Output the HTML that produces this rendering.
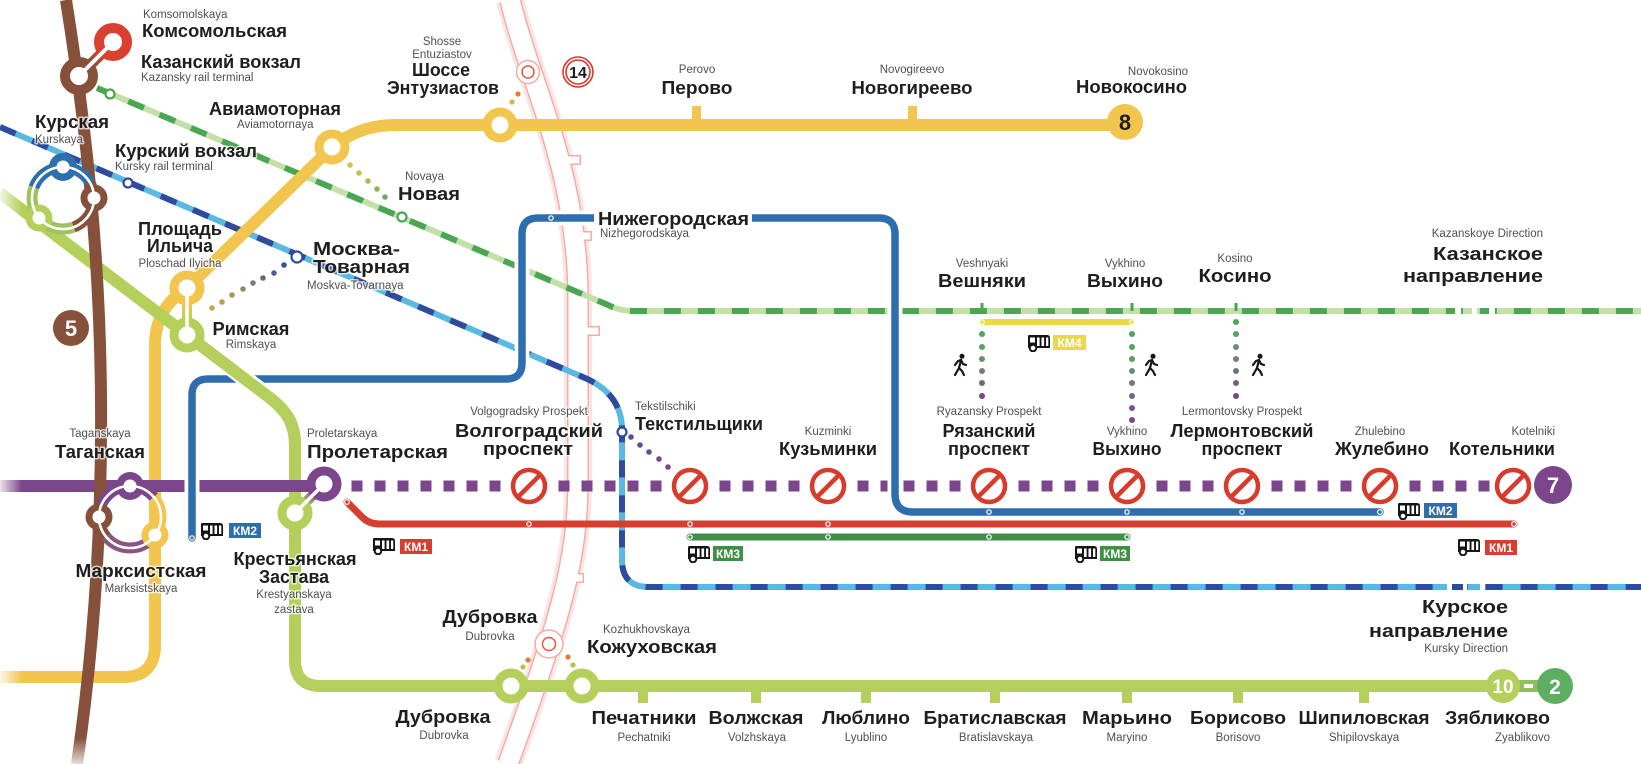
<!DOCTYPE html>
<html><head><meta charset="utf-8"><title>map</title>
<style>
html,body{margin:0;padding:0;background:#fff;width:1641px;height:764px;overflow:hidden}
svg{display:block}
.b{font-family:"Liberation Sans","DejaVu Sans",sans-serif;font-weight:700;font-size:18.5px;fill:#1e1e1e}
.s{font-family:"Liberation Sans","DejaVu Sans",sans-serif;font-size:11.5px;fill:#505050}
.t text{paint-order:stroke;stroke:#fff;stroke-opacity:.7;stroke-width:3px;stroke-linejoin:round}
.m{text-anchor:middle}.e{text-anchor:end}
.km{font-family:"Liberation Sans",sans-serif;font-weight:700;font-size:12px;fill:#fff;text-anchor:middle}
</style></head><body>
<svg width="1641" height="764" viewBox="0 0 1641 764" xmlns="http://www.w3.org/2000/svg">
<defs>
 <linearGradient id="gKR" gradientUnits="userSpaceOnUse" x1="79" y1="76" x2="113" y2="42"><stop offset="0.25" stop-color="#86503A"/><stop offset="0.75" stop-color="#D9402F"/></linearGradient>
 <linearGradient id="gYG" gradientUnits="userSpaceOnUse" x1="187" y1="288" x2="187" y2="335"><stop offset=".25" stop-color="#F2C54F"/><stop offset=".75" stop-color="#B4CF5B"/></linearGradient>
 <linearGradient id="gGP" gradientUnits="userSpaceOnUse" x1="295" y1="513" x2="324" y2="484"><stop offset=".25" stop-color="#B4CF5B"/><stop offset=".75" stop-color="#7B468B"/></linearGradient>
 <linearGradient id="fadeL" x1="0" x2="1" y1="0" y2="0"><stop offset="0" stop-color="#fff" stop-opacity=".85"/><stop offset="1" stop-color="#fff" stop-opacity="0"/></linearGradient>
 <linearGradient id="fadeB" x1="0" x2="0" y1="0" y2="1"><stop offset="0" stop-color="#fff" stop-opacity="0"/><stop offset="1" stop-color="#fff" stop-opacity=".8"/></linearGradient>
 <symbol id="bus" viewBox="0 0 24 19">
  <path d="M2,2 H20 Q23,2 23,5 V15 H1 V4 Q1,2 2,2 Z" fill="#151515"/>
  <rect x="3" y="4.5" width="5" height="5" fill="#fff"/>
  <rect x="10" y="4.5" width="2.6" height="8.5" fill="#fff"/>
  <rect x="14.5" y="4.5" width="2.6" height="8.5" fill="#fff"/>
  <rect x="19" y="4.5" width="2.3" height="8.5" fill="#fff"/>
  <circle cx="6" cy="15" r="3.3" fill="#fff" stroke="#151515" stroke-width="2"/>
 </symbol>
 <symbol id="walk" viewBox="0 0 16 24">
  <g fill="none" stroke="#151515" stroke-width="2.2" stroke-linecap="round" stroke-linejoin="round">
   <path d="M9,7 L7,15 L3,22"/><path d="M7,15 L10,18 L12,22"/><path d="M3,12 L6,8 L9,7 L11,11 L14,12"/>
  </g>
  <circle cx="10" cy="3.3" r="2.5" fill="#151515"/>
 </symbol>
 <g id="ne"><circle r="16" fill="#fff" stroke="#D83A2C" stroke-width="4.5"/><line x1="11" y1="-11" x2="-11" y2="11" stroke="#D83A2C" stroke-width="4.5"/></g>
</defs>

<!-- MCC band -->
<g fill="none">
 <path d="M510,0 C532,90 578,170 578,300 L578,480 C578,560 560,620 508,764" stroke="#FCE4E1" stroke-width="28"/>
 <path d="M510,0 C532,90 578,170 578,300 L578,480 C578,560 560,620 508,764" stroke="#F2ADA6" stroke-width="22"/>
</g>
<g fill="#F2ADA6">
 <rect x="562" y="155" width="19" height="10"/>
 <rect x="574" y="231" width="18" height="10"/>
 <rect x="578" y="326" width="22" height="10"/>
 <rect x="562" y="573" width="22" height="10"/>
</g>
<path d="M510,0 C532,90 578,170 578,300 L578,480 C578,560 560,620 508,764" stroke="#fff" stroke-width="19" fill="none"/>
<g fill="#fff">
 <rect x="560" y="156.5" width="19.5" height="7"/>
 <rect x="572" y="232.5" width="18.5" height="7"/>
 <rect x="576" y="327.5" width="22.5" height="7"/>
 <rect x="560" y="574.5" width="22.5" height="7"/>
</g>

<!-- Kazan direction -->
<g fill="none" stroke-width="6">
 <path d="M97,88 L608,305 Q620,311 633,311 L1641,311" stroke="#C2E0A8"/>
 <path d="M97,88 L608,305 Q620,311 633,311 L1641,311" stroke="#4AA651" stroke-dasharray="17 17"/>
</g>
<g fill="#fff"><rect x="1455" y="304" width="6" height="14"/><rect x="1472" y="304" width="5" height="14"/><rect x="1489" y="304" width="6" height="14"/></g>
<!-- Kursk direction -->
<g fill="none" stroke-width="6">
 <path d="M0,127 L585,378 Q622,394 622,430 L622,560 Q622,587 649,587 L1641,587" stroke="#5AB9E0"/>
 <path d="M0,127 L585,378 Q622,394 622,430 L622,560 Q622,587 649,587 L1641,587" stroke="#2F4B9D" stroke-dasharray="17 18"/>
</g>
<g fill="#fff"><rect x="1447" y="580" width="5" height="14"/><rect x="1463" y="580" width="4" height="14"/><rect x="1480" y="580" width="5" height="14"/></g>

<!-- Yellow line 8 -->
<g fill="none" stroke="#F2C54F" stroke-width="12">
 <path d="M187,288 L325,154 Q354,125 395,125 L1125,125"/>
 <path d="M187,288 C168,300 155,318 155,345 L155,645 Q155,677 123,677 L0,677"/>
</g>
<rect x="692" y="106" width="9" height="14" fill="#F2C54F"/>
<rect x="908" y="106" width="9" height="14" fill="#F2C54F"/>

<!-- Green line 10 -->
<path d="M0,193 L187,335 L270,398 C288,412 295,425 295,445 L295,660 Q295,686 321,686 L1503,686" fill="none" stroke="#B4CF5B" stroke-width="12"/>
<g fill="#B4CF5B">
 <rect x="638" y="686" width="10" height="17"/><rect x="751" y="686" width="10" height="17"/>
 <rect x="861" y="686" width="10" height="17"/><rect x="990" y="686" width="10" height="17"/>
 <rect x="1122" y="686" width="10" height="17"/><rect x="1233" y="686" width="10" height="17"/>
 <rect x="1359" y="686" width="10" height="17"/>
</g>

<!-- Purple line 7 -->
<path d="M0,486 L324,486" stroke="#7B468B" stroke-width="12"/>
<g fill="#7B468B">
 <rect x="351.5" y="480.5" width="11" height="11"/><rect x="374.5" y="480.5" width="11" height="11"/><rect x="397.5" y="480.5" width="11" height="11"/><rect x="420.5" y="480.5" width="11" height="11"/><rect x="443.5" y="480.5" width="11" height="11"/><rect x="466.5" y="480.5" width="11" height="11"/><rect x="489.5" y="480.5" width="11" height="11"/>
 <rect x="558.5" y="480.5" width="11" height="11"/><rect x="581.5" y="480.5" width="11" height="11"/><rect x="604.5" y="480.5" width="11" height="11"/><rect x="627.5" y="480.5" width="11" height="11"/><rect x="650.5" y="480.5" width="11" height="11"/>
 <rect x="719.5" y="480.5" width="11" height="11"/><rect x="742.5" y="480.5" width="11" height="11"/><rect x="765.5" y="480.5" width="11" height="11"/><rect x="788.5" y="480.5" width="11" height="11"/>
 <rect x="857.5" y="480.5" width="11" height="11"/><rect x="880.5" y="480.5" width="11" height="11"/><rect x="903.5" y="480.5" width="11" height="11"/><rect x="926.5" y="480.5" width="11" height="11"/><rect x="949.5" y="480.5" width="11" height="11"/>
 <rect x="1018.5" y="480.5" width="11" height="11"/><rect x="1041.5" y="480.5" width="11" height="11"/><rect x="1064.5" y="480.5" width="11" height="11"/><rect x="1087.5" y="480.5" width="11" height="11"/>
 <rect x="1156.5" y="480.5" width="11" height="11"/><rect x="1179.5" y="480.5" width="11" height="11"/><rect x="1202.5" y="480.5" width="11" height="11"/>
 <rect x="1271.5" y="480.5" width="11" height="11"/><rect x="1294.5" y="480.5" width="11" height="11"/><rect x="1317.5" y="480.5" width="11" height="11"/><rect x="1340.5" y="480.5" width="11" height="11"/>
 <rect x="1409.5" y="480.5" width="11" height="11"/><rect x="1432.5" y="480.5" width="11" height="11"/><rect x="1455.5" y="480.5" width="11" height="11"/><rect x="1478.5" y="480.5" width="11" height="11"/>
</g>

<!-- Brown line 5 -->
<path d="M66,0 C85,120 100,250 101,400 C102,520 95,640 77,764" fill="none" stroke="#86503A" stroke-width="12"/>

<!-- Blue KM2 line with casing -->
<path d="M192,538 L192,395 Q192,379 208,379 L506,379 Q522,379 522,363 L522,234 Q522,218 538,218 L879,218 Q895,218 895,234 L895,494 Q895,512 913,512 L1380,512" fill="none" stroke="#fff" stroke-width="15"/>
<path d="M192,538 L192,395 Q192,379 208,379 L506,379 Q522,379 522,363 L522,234 Q522,218 538,218 L879,218 Q895,218 895,234 L895,494 Q895,512 913,512 L1380,512" fill="none" stroke="#2F6EAE" stroke-width="7.5" stroke-linecap="round"/>
<!-- green segment over blue -->
<path d="M230,367 L270,398" fill="none" stroke="#fff" stroke-width="17"/>
<path d="M187,335 L270,398 C288,412 295,425 295,445" fill="none" stroke="#B4CF5B" stroke-width="12"/>

<!-- Red KM1 -->
<path d="M347,502 L362,517 Q369,524 379,524 L1514,524" fill="none" stroke="#D63E2F" stroke-width="7" stroke-linecap="round"/>
<!-- Green KM3 -->
<path d="M690,537 L1127,537" fill="none" stroke="#3F8F47" stroke-width="7" stroke-linecap="round"/>
<!-- Yellow KM4 -->
<path d="M982,322 L1132,322" fill="none" stroke="#EAD84A" stroke-width="6" stroke-linecap="round"/>

<!-- small route stops -->
<g fill="none" stroke="#fff" stroke-width="1.2">
 <circle cx="347" cy="502" r="2.4"/><circle cx="529" cy="524" r="2.2"/><circle cx="690" cy="524" r="2.2"/><circle cx="828" cy="524" r="2.2"/><circle cx="1514" cy="524" r="2.4"/>
 <circle cx="690" cy="537" r="2.2"/><circle cx="828" cy="537" r="2.2"/><circle cx="989" cy="537" r="2.2"/><circle cx="1127" cy="537" r="2.2"/>
 <circle cx="192" cy="538" r="2.2"/><circle cx="551" cy="218" r="2.2"/><circle cx="989" cy="512" r="2.2"/><circle cx="1127" cy="512" r="2.2"/><circle cx="1242" cy="512" r="2.2"/><circle cx="1380" cy="512" r="2.4"/>
 <circle cx="982" cy="322" r="2.2"/><circle cx="1132" cy="322" r="2.2"/>
</g>

<!-- Kazan ticks -->
<g fill="#4AA651"><rect x="980.5" y="303" width="3" height="8"/><rect x="1130.5" y="303" width="3" height="8"/><rect x="1234.5" y="303" width="3" height="8"/></g>

<!-- transfer dots vertical -->
<g>
 <circle cx="982" cy="334" r="3" fill="#4EA65A"/><circle cx="982" cy="347" r="3" fill="#5A9F66"/><circle cx="982" cy="359" r="3" fill="#6A9070"/><circle cx="982" cy="371" r="3" fill="#76797E"/><circle cx="982" cy="383" r="3" fill="#7C5F88"/><circle cx="982" cy="396" r="3" fill="#7B468B"/>
 <circle cx="1132" cy="334" r="3" fill="#4EA65A"/><circle cx="1132" cy="347" r="3" fill="#57A262"/><circle cx="1132" cy="359" r="3" fill="#62976A"/><circle cx="1132" cy="371" r="3" fill="#6C8A74"/><circle cx="1132" cy="383" r="3" fill="#75787E"/><circle cx="1132" cy="396" r="3" fill="#7A6486"/><circle cx="1132" cy="408" r="3" fill="#7B538A"/><circle cx="1132" cy="420" r="3" fill="#7B468B"/>
 <circle cx="1236" cy="322" r="3" fill="#4EA65A"/><circle cx="1236" cy="334" r="3" fill="#58A163"/><circle cx="1236" cy="347" r="3" fill="#64946C"/><circle cx="1236" cy="359" r="3" fill="#708478"/><circle cx="1236" cy="371" r="3" fill="#787080"/><circle cx="1236" cy="383" r="3" fill="#7B5A88"/><circle cx="1236" cy="396" r="3" fill="#7B468B"/>
</g>
<!-- Novaya dots -->
<g><circle cx="350" cy="165" r="2.8" fill="#D8C24A"/><circle cx="359" cy="173" r="2.8" fill="#C6C04E"/><circle cx="368" cy="181" r="2.8" fill="#AEBC55"/><circle cx="377" cy="189" r="2.8" fill="#8CB55A"/><circle cx="385" cy="197" r="2.8" fill="#6DAE58"/></g>
<!-- Moskva-Tovarnaya dots -->
<g><circle cx="212" cy="308" r="2.8" fill="#C9A44A"/><circle cx="222" cy="302" r="2.8" fill="#B9A050"/><circle cx="232" cy="295" r="2.8" fill="#A4975A"/><circle cx="243" cy="289" r="2.8" fill="#8C8C66"/><circle cx="253" cy="283" r="2.8" fill="#767F75"/><circle cx="263" cy="278" r="2.8" fill="#5E6D85"/><circle cx="274" cy="273" r="2.8" fill="#4A5E95"/><circle cx="284" cy="265" r="2.8" fill="#3A509E"/></g>
<!-- Tekstilshchiki dots -->
<g><circle cx="631" cy="437" r="2.8" fill="#56509C"/><circle cx="640" cy="445" r="2.8" fill="#5E4E98"/><circle cx="649" cy="452" r="2.8" fill="#664C94"/><circle cx="659" cy="459" r="2.8" fill="#714990"/><circle cx="668" cy="467" r="2.8" fill="#7B468B"/></g>
<!-- MCC transfer dots -->
<g><circle cx="518" cy="94" r="2.6" fill="#E07B39"/><circle cx="512" cy="102" r="2.6" fill="#D9B64A"/>
<circle cx="528" cy="660" r="2.6" fill="#E07B39"/><circle cx="523" cy="667" r="2.6" fill="#B9C24F"/>
<circle cx="568" cy="657" r="2.6" fill="#E07B39"/><circle cx="573" cy="665" r="2.6" fill="#B9C24F"/></g>

<!-- small railway stations -->
<g fill="#fff" stroke-width="2.2">
 <circle cx="110" cy="94" r="4.5" stroke="#4AA651"/><circle cx="402" cy="217" r="4.5" stroke="#4AA651"/>
 <circle cx="128" cy="183" r="4.5" stroke="#2F4B9D"/><circle cx="297" cy="257" r="5.5" stroke="#2F4B9D"/><circle cx="622" cy="432" r="4.5" stroke="#2F4B9D"/>
</g>
<!-- MCC stations -->
<g><circle cx="528" cy="72" r="11.5" fill="#fff" stroke="#F2ADA6" stroke-width="1.5"/><circle cx="528" cy="72" r="6" fill="none" stroke="#E4574A" stroke-width="1.5"/>
<circle cx="549" cy="644" r="14" fill="#fff" stroke="#F2ADA6" stroke-width="1.5"/><circle cx="549" cy="644" r="6.5" fill="none" stroke="#E4574A" stroke-width="1.5"/></g>
<!-- 14 badge -->
<g><circle cx="578" cy="72" r="15" fill="#fff" stroke="#D8392B" stroke-width="1.6"/><circle cx="578" cy="72" r="12" fill="none" stroke="#D8392B" stroke-width="1.6"/>
<text x="578" y="78" class="b m" style="font-size:16px">14</text></g>

<!-- Kazansky / Komsomolskaya -->
<line x1="79" y1="76" x2="113" y2="42" stroke="url(#gKR)" stroke-width="11"/>
<circle cx="79" cy="76" r="14" fill="#fff" stroke="#86503A" stroke-width="10"/>
<circle cx="113" cy="42" r="14" fill="#fff" stroke="#D9402F" stroke-width="10"/>
<line x1="79" y1="76" x2="113" y2="42" stroke="#fff" stroke-width="4"/>

<!-- Kurskaya complex -->
<g fill="none" stroke-width="11">
 <path d="M33.9,187.4 A31,31 0 0 1 89.8,182.5" stroke="#2F6EAE"/>
 <path d="M89.8,182.5 A31,31 0 0 1 73.6,227.1" stroke="#86503A"/>
 <path d="M73.6,227.1 A31,31 0 0 1 33.9,187.4" stroke="#9DC35A"/>
</g>
<circle cx="63" cy="167" r="14" fill="#2F6EAE"/><circle cx="94" cy="198" r="13.5" fill="#86503A"/><circle cx="39" cy="218" r="13.5" fill="#B4CF5B"/>
<circle cx="63" cy="198" r="31" fill="none" stroke="#fff" stroke-width="2.6"/>
<g fill="#fff"><circle cx="63" cy="167" r="6.5"/><circle cx="94" cy="198" r="6.5"/><circle cx="39" cy="218" r="6.5"/></g>

<!-- Taganskaya complex -->
<g fill="none" stroke-width="11">
 <path d="M100.9,506.4 A31,31 0 0 1 153.7,497.1" stroke="#7B468B"/>
 <path d="M153.7,497.1 A31,31 0 0 1 149.9,540.7" stroke="#F2C54F"/>
 <path d="M149.9,540.7 A31,31 0 0 1 106.3,536.9" stroke="#8A5580"/>
 <path d="M106.3,536.9 A31,31 0 0 1 100.9,506.4" stroke="#86503A"/>
</g>
<circle cx="130" cy="486" r="14" fill="#7B468B"/><circle cx="99" cy="517" r="13.5" fill="#86503A"/><circle cx="155" cy="535" r="13.5" fill="#F2C54F"/>
<circle cx="130" cy="517" r="31" fill="none" stroke="#fff" stroke-width="2.6"/>
<g fill="#fff"><circle cx="130" cy="486" r="6.5"/><circle cx="99" cy="517" r="6.5"/><circle cx="155" cy="535" r="6.5"/></g>

<!-- Ploshad Ilyicha / Rimskaya -->
<line x1="187" y1="288" x2="187" y2="335" stroke="url(#gYG)" stroke-width="10"/>
<circle cx="187" cy="288" r="13" fill="#fff" stroke="#F2C54F" stroke-width="9"/>
<circle cx="187" cy="335" r="13" fill="#fff" stroke="#B4CF5B" stroke-width="9"/>
<line x1="187" y1="288" x2="187" y2="335" stroke="#fff" stroke-width="3.5"/>
<!-- Krestyanskaya / Proletarskaya -->
<line x1="295" y1="513" x2="324" y2="484" stroke="url(#gGP)" stroke-width="10"/>
<circle cx="295" cy="513" r="13" fill="#fff" stroke="#B4CF5B" stroke-width="9"/>
<circle cx="324" cy="484" r="13" fill="#fff" stroke="#7B468B" stroke-width="9"/>
<line x1="295" y1="513" x2="324" y2="484" stroke="#fff" stroke-width="3.5"/>

<!-- other rings -->
<circle cx="332" cy="147" r="13" fill="#fff" stroke="#F2C54F" stroke-width="9"/>
<circle cx="500" cy="125" r="13" fill="#fff" stroke="#F2C54F" stroke-width="9"/>
<circle cx="511" cy="686" r="13" fill="#fff" stroke="#B4CF5B" stroke-width="9"/>
<circle cx="582" cy="686" r="13" fill="#fff" stroke="#B4CF5B" stroke-width="9"/>

<!-- no-entry signs -->
<use href="#ne" x="529" y="486"/><use href="#ne" x="690" y="486"/><use href="#ne" x="828" y="486"/><use href="#ne" x="989" y="486"/>
<use href="#ne" x="1127" y="486"/><use href="#ne" x="1242" y="486"/><use href="#ne" x="1380" y="486"/><use href="#ne" x="1513" y="486"/>

<!-- badges -->
<circle cx="71" cy="328" r="18" fill="#86503A"/><text x="71" y="336" class="b m" style="font-size:22px;fill:#fff">5</text>
<circle cx="1125" cy="122" r="18" fill="#F2C54F"/><text x="1125" y="130" class="b m" style="font-size:22px;fill:#1e1e1e">8</text>
<circle cx="1553" cy="485" r="19" fill="#7B468B"/><text x="1553" y="493" class="b m" style="font-size:22px;fill:#fff">7</text>
<rect x="1512" y="680" width="30" height="12" fill="#8FC05C"/>
<circle cx="1503" cy="686" r="17" fill="#B4CF5B"/>
<circle cx="1555" cy="686" r="18" fill="#5DAE62"/>
<rect x="1524" y="684" width="9" height="4" fill="#fff"/>
<text x="1503" y="693" class="b m" style="font-size:19px;fill:#fff">10</text>
<text x="1555" y="694" class="b m" style="font-size:21px;fill:#fff">2</text>

<!-- KM labels -->
<use href="#bus" x="200" y="521" width="24" height="19"/><rect x="229" y="523" width="32" height="15" fill="#2F6EAE"/><text x="245" y="535" class="km">КМ2</text>
<use href="#bus" x="372" y="536" width="24" height="19"/><rect x="400" y="539" width="32" height="15" fill="#D63E2F"/><text x="416" y="551" class="km">КМ1</text>
<use href="#bus" x="687" y="544" width="24" height="19"/><rect x="713" y="546" width="30" height="15" fill="#3F8F47"/><text x="728" y="558" class="km">КМ3</text>
<use href="#bus" x="1074" y="544" width="24" height="19"/><rect x="1100" y="546" width="30" height="15" fill="#3F8F47"/><text x="1115" y="558" class="km">КМ3</text>
<use href="#bus" x="1027" y="333" width="24" height="19"/><rect x="1053" y="335" width="33" height="15" fill="#EAD84A"/><text x="1069.5" y="347" class="km">КМ4</text>
<use href="#bus" x="1397" y="501" width="24" height="19"/><rect x="1424" y="503" width="33" height="15" fill="#2F6EAE"/><text x="1440.5" y="515" class="km">КМ2</text>
<use href="#bus" x="1457" y="537" width="24" height="19"/><rect x="1485" y="540" width="32" height="15" fill="#D63E2F"/><text x="1501" y="552" class="km">КМ1</text>

<!-- walking -->
<use href="#walk" x="952" y="353" width="16" height="24"/>
<use href="#walk" x="1143" y="353" width="16" height="24"/>
<use href="#walk" x="1250" y="353" width="16" height="24"/>

<!-- fades -->
<rect x="0" y="184" width="22" height="34" fill="url(#fadeL)"/>
<rect x="0" y="479" width="22" height="15" fill="url(#fadeL)"/>
<rect x="0" y="670" width="22" height="15" fill="url(#fadeL)"/>
<rect x="60" y="738" width="40" height="26" fill="url(#fadeB)"/>

<!-- Nizhegorodskaya bg -->
<rect x="594" y="209" width="158" height="18" fill="#fff"/>

<!-- Text -->
<g class="t">
<text class="s" x="143" y="18">Komsomolskaya</text>
<text class="b" x="142" y="37" textLength="145" lengthAdjust="spacingAndGlyphs">Комсомольская</text>
<text class="b" x="141" y="68" textLength="160" lengthAdjust="spacingAndGlyphs">Казанский вокзал</text>
<text class="s" x="141" y="81">Kazansky rail terminal</text>
<text class="b" x="35" y="128" textLength="74" lengthAdjust="spacingAndGlyphs">Курская</text>
<text class="s" x="35" y="143">Kurskaya</text>
<text class="b" x="115" y="157" textLength="142" lengthAdjust="spacingAndGlyphs">Курский вокзал</text>
<text class="s" x="115" y="170">Kursky rail terminal</text>
<text class="b" x="209" y="115" textLength="132" lengthAdjust="spacingAndGlyphs">Авиамоторная</text>
<text class="s" x="237" y="128">Aviamotornaya</text>
<text class="s m" x="442" y="45">Shosse</text>
<text class="s m" x="442" y="58">Entuziastov</text>
<text class="b m" x="441" y="76" textLength="58" lengthAdjust="spacingAndGlyphs">Шоссе</text>
<text class="b m" x="443" y="94" textLength="112" lengthAdjust="spacingAndGlyphs">Энтузиастов</text>
<text class="s" x="405" y="180">Novaya</text>
<text class="b" x="398" y="200" textLength="62" lengthAdjust="spacingAndGlyphs">Новая</text>
<text class="b m" x="180" y="235" textLength="84" lengthAdjust="spacingAndGlyphs">Площадь</text>
<text class="b m" x="180" y="252" textLength="66" lengthAdjust="spacingAndGlyphs">Ильича</text>
<text class="s m" x="180" y="267">Ploschad Ilyicha</text>
<text class="b" x="313" y="255" textLength="87" lengthAdjust="spacingAndGlyphs">Москва-</text>
<text class="b" x="313" y="273" textLength="97" lengthAdjust="spacingAndGlyphs">Товарная</text>
<text class="s" x="307" y="289">Moskva-Tovarnaya</text>
<text class="b m" x="251" y="335" textLength="77" lengthAdjust="spacingAndGlyphs">Римская</text>
<text class="s m" x="251" y="348">Rimskaya</text>
<text class="s m" x="100" y="437">Taganskaya</text>
<text class="b m" x="100" y="458" textLength="90" lengthAdjust="spacingAndGlyphs">Таганская</text>
<text class="b m" x="141" y="577" textLength="131" lengthAdjust="spacingAndGlyphs">Марксистская</text>
<text class="s m" x="141" y="592">Marksistskaya</text>
<text class="s" x="307" y="437">Proletarskaya</text>
<text class="b" x="307" y="458" textLength="141" lengthAdjust="spacingAndGlyphs">Пролетарская</text>
<text class="b m" x="295" y="565" textLength="123" lengthAdjust="spacingAndGlyphs">Крестьянская</text>
<text class="b m" x="294" y="583" textLength="70" lengthAdjust="spacingAndGlyphs">Застава</text>
<text class="s m" x="294" y="598">Krestyanskaya</text>
<text class="s m" x="294" y="613">zastava</text>
<text class="s m" x="697" y="73">Perovo</text>
<text class="b m" x="697" y="94" textLength="71" lengthAdjust="spacingAndGlyphs">Перово</text>
<text class="s m" x="912" y="73">Novogireevo</text>
<text class="b m" x="912" y="94" textLength="121" lengthAdjust="spacingAndGlyphs">Новогиреево</text>
<text class="s e" x="1188" y="75">Novokosino</text>
<text class="b e" x="1187" y="93" textLength="111" lengthAdjust="spacingAndGlyphs">Новокосино</text>
<text class="b" x="598" y="225" textLength="151" lengthAdjust="spacingAndGlyphs">Нижегородская</text>
<text class="s" x="600" y="237">Nizhegorodskaya</text>
<text class="s m" x="529" y="415">Volgogradsky Prospekt</text>
<text class="b m" x="529" y="437" textLength="148" lengthAdjust="spacingAndGlyphs">Волгоградский</text>
<text class="b m" x="528" y="455" textLength="90" lengthAdjust="spacingAndGlyphs">проспект</text>
<text class="s" x="635" y="410">Tekstilschiki</text>
<text class="b" x="635" y="430" textLength="128" lengthAdjust="spacingAndGlyphs">Текстильщики</text>
<text class="s m" x="828" y="435">Kuzminki</text>
<text class="b m" x="828" y="455" textLength="98" lengthAdjust="spacingAndGlyphs">Кузьминки</text>
<text class="s m" x="982" y="267">Veshnyaki</text>
<text class="b m" x="982" y="287" textLength="88" lengthAdjust="spacingAndGlyphs">Вешняки</text>
<text class="s m" x="1125" y="267">Vykhino</text>
<text class="b m" x="1125" y="287" textLength="76" lengthAdjust="spacingAndGlyphs">Выхино</text>
<text class="s m" x="1235" y="262">Kosino</text>
<text class="b m" x="1235" y="282" textLength="73" lengthAdjust="spacingAndGlyphs">Косино</text>
<text class="s e" x="1543" y="237">Kazanskoye Direction</text>
<text class="b e" x="1543" y="260" textLength="110" lengthAdjust="spacingAndGlyphs">Казанское</text>
<text class="b e" x="1543" y="282" textLength="140" lengthAdjust="spacingAndGlyphs">направление</text>
<text class="s m" x="989" y="415">Ryazansky Prospekt</text>
<text class="b m" x="989" y="437" textLength="93" lengthAdjust="spacingAndGlyphs">Рязанский</text>
<text class="b m" x="989" y="455" textLength="82" lengthAdjust="spacingAndGlyphs">проспект</text>
<text class="s m" x="1127" y="435">Vykhino</text>
<text class="b m" x="1127" y="455" textLength="69" lengthAdjust="spacingAndGlyphs">Выхино</text>
<text class="s m" x="1242" y="415">Lermontovsky Prospekt</text>
<text class="b m" x="1242" y="437" textLength="143" lengthAdjust="spacingAndGlyphs">Лермонтовский</text>
<text class="b m" x="1242" y="455" textLength="81" lengthAdjust="spacingAndGlyphs">проспект</text>
<text class="s m" x="1380" y="435">Zhulebino</text>
<text class="b m" x="1382" y="455" textLength="94" lengthAdjust="spacingAndGlyphs">Жулебино</text>
<text class="s e" x="1555" y="435">Kotelniki</text>
<text class="b e" x="1555" y="455" textLength="106" lengthAdjust="spacingAndGlyphs">Котельники</text>
<text class="b e" x="1508" y="613" textLength="86" lengthAdjust="spacingAndGlyphs">Курское</text>
<text class="b e" x="1508" y="637" textLength="139" lengthAdjust="spacingAndGlyphs">направление</text>
<text class="s e" x="1508" y="652">Kursky Direction</text>
<text class="b m" x="490" y="623" textLength="95" lengthAdjust="spacingAndGlyphs">Дубровка</text>
<text class="s m" x="490" y="640">Dubrovka</text>
<text class="s" x="603" y="633">Kozhukhovskaya</text>
<text class="b" x="587" y="653" textLength="130" lengthAdjust="spacingAndGlyphs">Кожуховская</text>
<text class="b m" x="443" y="723" textLength="95" lengthAdjust="spacingAndGlyphs">Дубровка</text>
<text class="s m" x="444" y="739">Dubrovka</text>
<text class="b m" x="644" y="724" textLength="105" lengthAdjust="spacingAndGlyphs">Печатники</text>
<text class="s m" x="644" y="741">Pechatniki</text>
<text class="b m" x="756" y="724" textLength="95" lengthAdjust="spacingAndGlyphs">Волжская</text>
<text class="s m" x="757" y="741">Volzhskaya</text>
<text class="b m" x="866" y="724" textLength="88" lengthAdjust="spacingAndGlyphs">Люблино</text>
<text class="s m" x="866" y="741">Lyublino</text>
<text class="b m" x="995" y="724" textLength="143" lengthAdjust="spacingAndGlyphs">Братиславская</text>
<text class="s m" x="996" y="741">Bratislavskaya</text>
<text class="b m" x="1127" y="724" textLength="90" lengthAdjust="spacingAndGlyphs">Марьино</text>
<text class="s m" x="1127" y="741">Maryino</text>
<text class="b m" x="1238" y="724" textLength="96" lengthAdjust="spacingAndGlyphs">Борисово</text>
<text class="s m" x="1238" y="741">Borisovo</text>
<text class="b m" x="1364" y="724" textLength="131" lengthAdjust="spacingAndGlyphs">Шипиловская</text>
<text class="s m" x="1364" y="741">Shipilovskaya</text>
<text class="b e" x="1550" y="724" textLength="105" lengthAdjust="spacingAndGlyphs">Зябликово</text>
<text class="s e" x="1550" y="741">Zyablikovo</text>
</g>
</svg>
</body></html>
